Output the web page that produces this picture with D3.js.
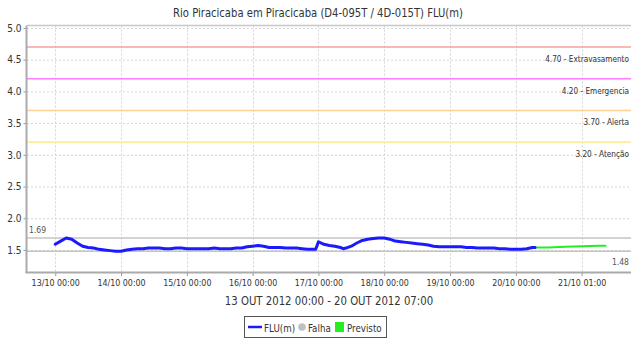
<!DOCTYPE html>
<html>
<head>
<meta charset="utf-8">
<script src="https://cdn.jsdelivr.net/npm/d3@7"></script>
<style>
  html, body { margin: 0; padding: 0; background: #fff; }
  svg { display: block; }
  text { font-family: "DejaVu Sans Condensed", "DejaVu Sans", sans-serif; fill: #333; }
</style>
</head>
<body>
<svg id="chart" width="632" height="347"></svg>
<script>
// Station level readings (hours after 13/10/2012 00:00) and level in metres
const obsHours = [0,2,4,6,8,10,12,14,16,18,20,22,24,26,28,30,32,34,36,38,40,42,44,46,48,50,52,54,56,58,60,62,64,66,68,70,72,74,76,78,80,82,84,86,88,90,92,94,95,96,98,100,102,104,105,106,108,110,112,114,116,118,120,122,124,126,128,130,132,134,136,138,140,142,144,146,148,150,152,154,156,158,160,162,164,166,168,170,172,174,175];
const obsLevel = [1.59,1.64,1.69,1.67,1.61,1.56,1.54,1.53,1.51,1.50,1.49,1.48,1.48,1.50,1.51,1.52,1.52,1.53,1.53,1.53,1.52,1.52,1.53,1.53,1.52,1.52,1.52,1.52,1.52,1.53,1.52,1.52,1.52,1.53,1.53,1.55,1.56,1.57,1.56,1.54,1.54,1.54,1.53,1.53,1.53,1.52,1.51,1.51,1.51,1.63,1.59,1.57,1.56,1.54,1.52,1.53,1.56,1.61,1.65,1.67,1.68,1.69,1.69,1.67,1.64,1.63,1.62,1.61,1.60,1.59,1.58,1.56,1.55,1.55,1.55,1.55,1.55,1.54,1.54,1.53,1.53,1.53,1.53,1.52,1.52,1.51,1.51,1.51,1.52,1.54,1.54];

// Forecast (Previsto)
const fcHours = [175,180,186,192,198,201];
const fcLevel = [1.54,1.54,1.55,1.56,1.565,1.565];

// Alert thresholds
const thrValues = [4.70, 4.20, 3.70, 3.20];
const thrNames  = ["Extravasamento", "Emergencia", "Alerta", "Atenção"];
const thrColors = ["#f7a1a1", "#ff7dff", "#ffcf96", "#fbee9f"];

// Period extremes
const maxLevel = 1.69;
const minLevel = 1.48;

// Axis ticks
const yTicks = [1.5, 2.0, 2.5, 3.0, 3.5, 4.0, 4.5, 5.0];
const xTickHours = [0, 24, 48, 72, 96, 120, 144, 168, 192];
const xTickLabels = ["13/10 00:00","14/10 00:00","15/10 00:00","16/10 00:00","17/10 00:00","18/10 00:00","19/10 00:00","20/10 00:00","21/10 01:00"];

const title = "Rio Piracicaba em Piracicaba (D4-095T / 4D-015T) FLU(m)";
const xTitle = "13 OUT 2012 00:00 - 20 OUT 2012 07:00";

const t0 = Date.UTC(2012, 9, 13, 0, 0);
const toDate = h => new Date(t0 + h * 3600e3);

const svg = d3.select("#chart");
const W = 632;
const plot = { left: 27, right: 631, top: 25.5, bottom: 272 };

const x = d3.scaleUtc()
  .domain([toDate(-10.3), toDate(210.0)])
  .range([plot.left, plot.right]);
const y = d3.scaleLinear()
  .domain([1.153, 5.039])
  .range([plot.bottom, plot.top]);

// Narrow text helper: regular height, horizontally compressed glyphs
function narrowText(parent, px, py, str, size, anchor, sx, fill) {
  return parent.append("g")
    .attr("transform", `translate(${px},${py}) scale(${sx},1)`)
    .append("text")
    .attr("text-anchor", anchor || "start")
    .style("font-size", size + "px")
    .style("fill", fill || "#333")
    .text(str);
}

// Title
narrowText(svg, W / 2 + 2, 17, title, 12, "middle", 0.93, "#333");

const g = svg.append("g");

// Grid lines
g.selectAll(".hgrid").data(yTicks).join("line")
  .attr("x1", plot.left).attr("x2", plot.right)
  .attr("y1", d => y(d) + 0.5).attr("y2", d => y(d) + 0.5)
  .attr("stroke", "#d4d4d4").attr("stroke-width", 1).attr("stroke-dasharray", "2,2");
g.selectAll(".vgrid").data(xTickHours).join("line")
  .attr("x1", d => Math.round(x(toDate(d))) + 0.5).attr("x2", d => Math.round(x(toDate(d))) + 0.5)
  .attr("y1", plot.top).attr("y2", plot.bottom)
  .attr("stroke", "#d4d4d4").attr("stroke-width", 1).attr("stroke-dasharray", "2,2");

// Top border
g.append("line")
  .attr("x1", plot.left).attr("x2", plot.right)
  .attr("y1", plot.top).attr("y2", plot.top)
  .attr("stroke", "#c8c8c8").attr("stroke-width", 1.5);

// Threshold lines and labels
thrValues.forEach((v, i) => {
  g.append("line")
    .attr("x1", plot.left).attr("x2", plot.right)
    .attr("y1", y(v)).attr("y2", y(v))
    .attr("stroke", thrColors[i]).attr("stroke-width", 1.6);
  narrowText(g, 629, y(v) + 15, v.toFixed(2) + " - " + thrNames[i], 9.5, "end", 0.86, "#333");
});

// Period max / min lines
[maxLevel, minLevel].forEach(v => {
  g.append("line")
    .attr("x1", plot.left).attr("x2", plot.right)
    .attr("y1", y(v)).attr("y2", y(v))
    .attr("stroke", "#c4c4c4").attr("stroke-width", 1.6);
});
narrowText(g, 29, y(maxLevel) - 5, maxLevel.toFixed(2), 9.5, "start", 0.9, "#555");
narrowText(g, 629, y(minLevel) + 14, minLevel.toFixed(2), 9.5, "end", 0.9, "#555");

// Series
const line = d3.line()
  .x(d => x(toDate(d[0])))
  .y(d => y(d[1]));

g.append("path")
  .datum(fcHours.map((h, i) => [h, fcLevel[i]]))
  .attr("d", line)
  .attr("fill", "none")
  .attr("stroke", "#22ee22").attr("stroke-width", 2);

g.append("path")
  .datum(obsHours.map((h, i) => [h, obsLevel[i]]))
  .attr("d", line)
  .attr("fill", "none")
  .attr("stroke", "#1a1aff").attr("stroke-width", 3)
  .attr("stroke-linejoin", "round").attr("stroke-linecap", "round");

// Y axis
const yAxis = d3.axisLeft(y)
  .tickValues(yTicks)
  .tickFormat(d3.format(".1f"))
  .tickSize(3).tickPadding(2);
const ya = svg.append("g").attr("transform", `translate(${plot.left - 0.5},0)`).call(yAxis);
ya.select(".domain").remove();
ya.selectAll(".tick line").attr("stroke", "#999");
ya.selectAll(".tick text").style("font-size", "10px").style("font-family", "'DejaVu Sans Condensed', sans-serif").style("fill", "#333");
svg.append("line")
  .attr("x1", plot.left - 0.5).attr("x2", plot.left - 0.5)
  .attr("y1", plot.top).attr("y2", plot.bottom + 1)
  .attr("stroke", "#aaa").attr("stroke-width", 2);

// X axis
const xAxis = d3.axisBottom(x)
  .tickValues(xTickHours.map(toDate))
  .tickFormat((d, i) => xTickLabels[i])
  .tickSize(4).tickPadding(3);
const xa = svg.append("g").attr("transform", `translate(0,${plot.bottom})`).call(xAxis);
xa.select(".domain").remove();
xa.selectAll(".tick line").attr("stroke", "#999");
xa.selectAll(".tick text")
  .style("font-size", "9.5px")
  .style("font-family", "'DejaVu Sans Condensed', sans-serif")
  .style("fill", "#333")
  .attr("transform", "scale(0.93,1)");
svg.append("line")
  .attr("x1", plot.left - 1.5).attr("x2", plot.right)
  .attr("y1", plot.bottom + 0.5).attr("y2", plot.bottom + 0.5)
  .attr("stroke", "#aaa").attr("stroke-width", 2);

// X axis title
narrowText(svg, (plot.left + plot.right) / 2, 305, xTitle, 12, "middle", 0.94, "#333");

// Legend
const lg = svg.append("g");
lg.append("rect")
  .attr("x", 244.5).attr("y", 316.5).attr("width", 142).attr("height", 21)
  .attr("fill", "#fff").attr("stroke", "#555").attr("stroke-width", 1);
lg.append("line")
  .attr("x1", 248).attr("x2", 262).attr("y1", 327).attr("y2", 327)
  .attr("stroke", "#1a1aff").attr("stroke-width", 2.5);
narrowText(lg, 264, 331.5, "FLU(m)", 11, "start", 0.88, "#333");
lg.append("circle").attr("cx", 302).attr("cy", 327).attr("r", 3.8).attr("fill", "#c0c0c0");
narrowText(lg, 308, 331.5, "Falha", 11, "start", 0.88, "#333");
lg.append("rect").attr("x", 335).attr("y", 322).attr("width", 9).attr("height", 10).attr("fill", "#22ee22");
narrowText(lg, 347, 331.5, "Previsto", 11, "start", 0.88, "#333");
</script>
</body>
</html>
